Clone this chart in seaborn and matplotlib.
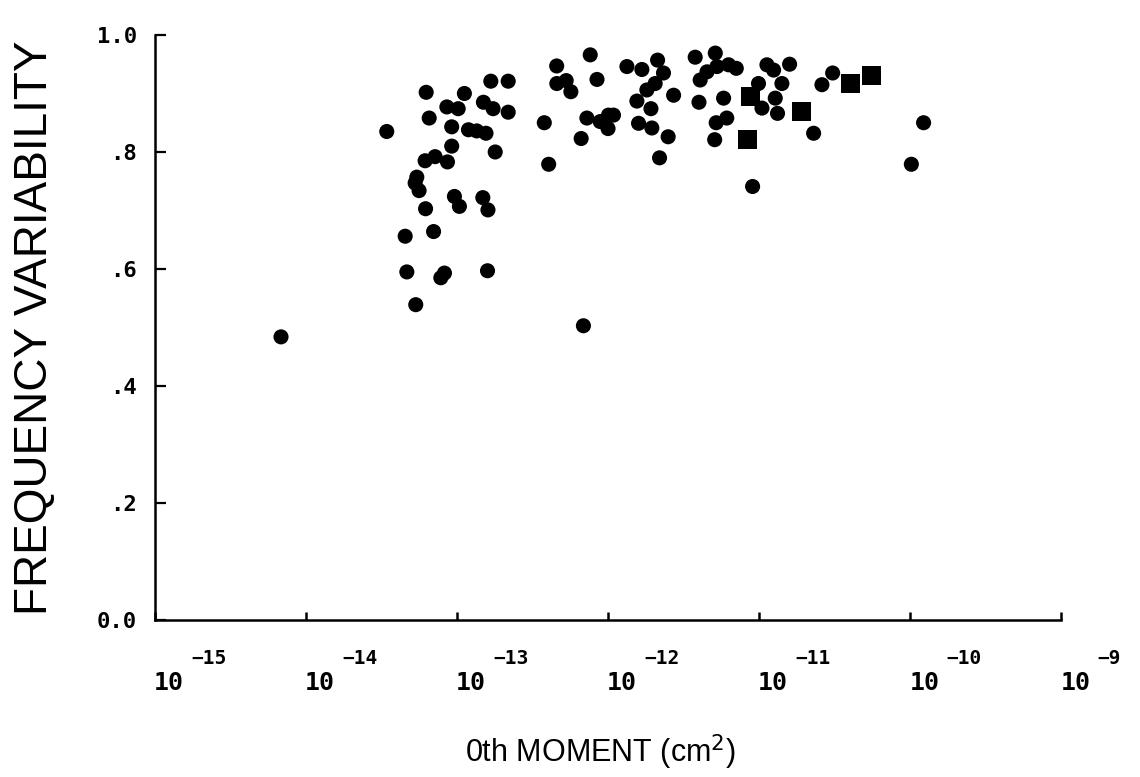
import numpy as np
import pandas as pd
import matplotlib
matplotlib.use("Agg")
import matplotlib.pyplot as plt
import seaborn as sns

# log10 of the 0th moment (cm^2) and frequency variability, round markers
circle_log_moment = [
    -14.166, -13.466, -13.344, -13.333, -13.274, -13.267, -13.278, -13.252,
    -13.209, -13.212, -13.146, -13.064, -13.205, -13.185, -13.068, -12.993,
    -12.952, -13.036, -13.036, -12.925, -12.870, -12.809, -12.826, -12.762,
    -12.662, -12.777, -12.662, -12.748, -13.018, -12.985, -12.830, -12.796,
    -13.156, -13.108, -13.084, -12.799, -12.423, -12.394, -12.164, -12.341,
    -12.340, -12.278, -12.247, -12.119, -12.074, -12.141, -12.053, -11.998,
    -11.965, -12.001, -12.179, -11.876, -11.777, -11.673, -11.634, -11.689,
    -11.744, -11.810, -11.717, -11.799, -11.711, -11.567, -11.603, -11.660,
    -11.424, -11.291, -11.391, -11.346, -11.280, -11.203, -11.152, -11.399,
    -11.236, -11.285, -11.215, -11.295, -11.044, -11.005, -10.982, -10.949,
    -10.905, -10.850, -10.894, -10.879, -10.799, -10.640, -10.585, -10.514,
    -9.993, -9.912,
]
circle_variability = [
    0.484, 0.835, 0.656, 0.595, 0.539, 0.757, 0.747, 0.734,
    0.703, 0.785, 0.792, 0.783, 0.902, 0.858, 0.877, 0.874,
    0.900, 0.843, 0.810, 0.838, 0.836, 0.832, 0.885, 0.874,
    0.868, 0.921, 0.921, 0.800, 0.724, 0.707, 0.722, 0.701,
    0.664, 0.585, 0.593, 0.597, 0.850, 0.779, 0.503, 0.947,
    0.917, 0.922, 0.903, 0.966, 0.924, 0.858, 0.852, 0.863,
    0.863, 0.840, 0.823, 0.946, 0.941, 0.957, 0.935, 0.917,
    0.906, 0.887, 0.874, 0.849, 0.841, 0.897, 0.826, 0.790,
    0.962, 0.969, 0.923, 0.937, 0.946, 0.949, 0.943, 0.885,
    0.892, 0.850, 0.858, 0.821, 0.741, 0.917, 0.875, 0.949,
    0.940, 0.917, 0.892, 0.866, 0.950, 0.832, 0.915, 0.935,
    0.779, 0.850,
]

# square markers
square_log_moment = [-11.077, -11.060, -10.720, -10.397, -10.258]
square_variability = [0.822, 0.895, 0.869, 0.917, 0.930]

x_decades = [-15, -14, -13, -12, -11, -10, -9]
y_ticks = [0.0, 0.2, 0.4, 0.6, 0.8, 1.0]
y_tick_labels = ["0.0", ".2", ".4", ".6", ".8", "1.0"]

circles = pd.DataFrame({
    "moment": np.power(10.0, circle_log_moment),
    "variability": circle_variability,
})
squares = pd.DataFrame({
    "moment": np.power(10.0, square_log_moment),
    "variability": square_variability,
})

sns.set_theme(style="white")
plt.rcParams["font.family"] = ["Liberation Sans", "DejaVu Sans"]
plt.rcParams["text.color"] = "black"
plt.rcParams["axes.labelcolor"] = "black"
plt.rcParams["xtick.color"] = "black"
plt.rcParams["ytick.color"] = "black"

fig = plt.figure(figsize=(11.4, 7.77), dpi=100)
ax = fig.add_axes([0.136, 0.202, 0.795, 0.753])

sns.scatterplot(data=circles, x="moment", y="variability", ax=ax,
                marker="o", s=118, color="black", edgecolor="none")
sns.scatterplot(data=squares, x="moment", y="variability", ax=ax,
                marker="s", s=185, color="black", edgecolor="none")

ax.set_xscale("log")
ax.set_xlim(10.0 ** x_decades[0], 10.0 ** x_decades[-1])
ax.set_ylim(0.0, 1.0)

for side in ("top", "right"):
    ax.spines[side].set_visible(False)
for side in ("left", "bottom"):
    ax.spines[side].set_color("black")
    ax.spines[side].set_linewidth(1.8)

ax.set_xticks([10.0 ** d for d in x_decades])
ax.set_xticklabels([""] * len(x_decades))
ax.xaxis.set_minor_locator(matplotlib.ticker.NullLocator())
ax.tick_params(axis="x", direction="in", length=6, width=1.8, color="black",
               bottom=True)

ax.set_yticks(y_ticks)
ax.set_yticklabels(y_tick_labels, family="DejaVu Sans Mono",
                   fontweight="bold", fontsize=16, color="black")
ax.tick_params(axis="y", direction="in", length=8, width=1.6, color="black",
               left=True, pad=13)

# decade labels: base "10" with a raised exponent
for d in x_decades:
    ax.annotate("10", xy=(10.0 ** d, 0), xycoords=("data", "axes fraction"),
                xytext=(-1, -63), textcoords="offset pixels",
                ha="left", va="center", family="DejaVu Sans Mono",
                fontweight="bold", fontsize=18, color="black",
                annotation_clip=False)
    ax.annotate(f"\u2212{abs(d)}", xy=(10.0 ** d, 0),
                xycoords=("data", "axes fraction"),
                xytext=(36, -38), textcoords="offset pixels",
                ha="left", va="center", family="DejaVu Sans Mono",
                fontweight="bold", fontsize=14, color="black",
                annotation_clip=False)

ax.set_ylabel("FREQUENCY VARIABILITY", fontsize=33, color="black")
ax.yaxis.set_label_coords(-0.1325, 0.50)
ax.set_xlabel("0th MOMENT (cm$^2$)", fontsize=22, color="black")
ax.xaxis.set_label_coords(0.491, -0.2256)
ax.xaxis.label.set_va("center")
ax.yaxis.label.set_va("center")
ax.grid(False)

fig.savefig("out.png", dpi=100, facecolor="white")
